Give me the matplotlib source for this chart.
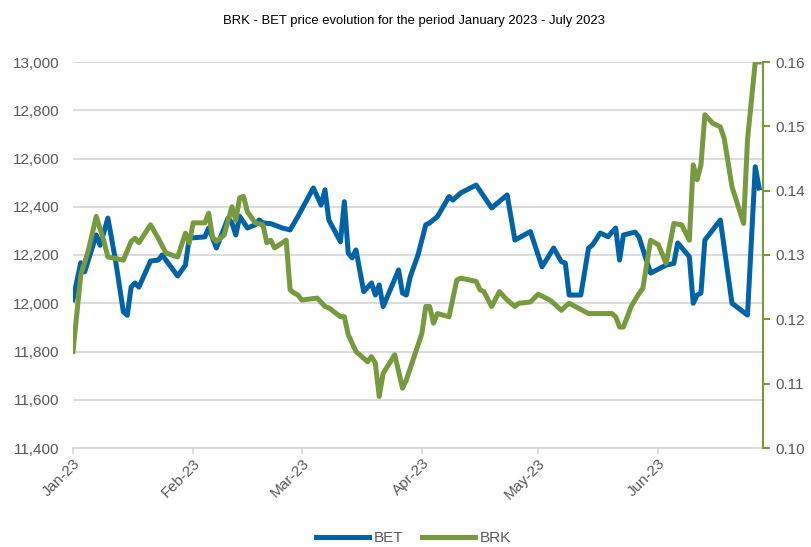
import pandas as pd
import matplotlib
matplotlib.use('Agg')
import matplotlib.pyplot as plt
import matplotlib.dates as mdates
from matplotlib.ticker import FuncFormatter

plt.rcParams['font.family'] = 'Liberation Sans'

# BET index (left axis)
bet_dates = ['2023-01-03', '2023-01-05', '2023-01-06', '2023-01-09', '2023-01-10', '2023-01-12',
             '2023-01-14', '2023-01-16', '2023-01-17', '2023-01-18', '2023-01-19', '2023-01-20',
             '2023-01-23', '2023-01-25', '2023-01-26', '2023-01-30', '2023-02-01', '2023-02-02',
             '2023-02-06', '2023-02-07', '2023-02-09', '2023-02-12', '2023-02-13', '2023-02-14',
             '2023-02-15', '2023-02-17', '2023-02-19', '2023-02-20', '2023-02-21', '2023-02-23',
             '2023-02-26', '2023-02-28', '2023-03-02', '2023-03-06', '2023-03-08', '2023-03-09',
             '2023-03-10', '2023-03-13', '2023-03-14', '2023-03-15', '2023-03-16', '2023-03-17',
             '2023-03-19', '2023-03-21', '2023-03-22', '2023-03-23', '2023-03-24', '2023-03-28',
             '2023-03-29', '2023-03-30', '2023-03-31', '2023-04-02', '2023-04-04', '2023-04-05',
             '2023-04-07', '2023-04-10', '2023-04-11', '2023-04-13', '2023-04-17', '2023-04-21',
             '2023-04-25', '2023-04-27', '2023-05-01', '2023-05-04', '2023-05-07', '2023-05-09',
             '2023-05-10', '2023-05-11', '2023-05-14', '2023-05-16', '2023-05-17', '2023-05-19',
             '2023-05-21', '2023-05-23', '2023-05-24', '2023-05-25', '2023-05-28', '2023-05-29',
             '2023-06-01', '2023-06-05', '2023-06-07', '2023-06-08', '2023-06-11', '2023-06-12',
             '2023-06-13', '2023-06-14', '2023-06-15', '2023-06-19', '2023-06-22', '2023-06-26',
             '2023-06-28', '2023-06-29']
bet = [12015, 12168, 12130, 12283, 12240, 12353,
       12175, 11964, 11950, 12067, 12084, 12067,
       12175, 12179, 12200, 12113, 12158, 12270,
       12275, 12312, 12229, 12353, 12333, 12283,
       12360, 12312, 12325, 12345, 12333, 12330,
       12312, 12304, 12359, 12478, 12407, 12470,
       12345, 12255, 12421, 12208, 12188, 12221,
       12048, 12084, 12034, 12076, 11986, 12138,
       12042, 12034, 12110, 12200, 12325, 12333,
       12359, 12442, 12428, 12457, 12490, 12395,
       12449, 12262, 12297, 12151, 12229, 12172,
       12167, 12034, 12034, 12229, 12241, 12291,
       12276, 12312, 12179, 12283, 12295, 12275,
       12125, 12158, 12165, 12250, 12193, 12000,
       12034, 12042, 12262, 12345, 12000, 11951,
       12566, 12478]

# BRK share price (right axis)
brk_dates = ['2023-01-03', '2023-01-05', '2023-01-07', '2023-01-09', '2023-01-11', '2023-01-12',
             '2023-01-16', '2023-01-18', '2023-01-19', '2023-01-20', '2023-01-23', '2023-01-25',
             '2023-01-27', '2023-01-30', '2023-02-01', '2023-02-02', '2023-02-03', '2023-02-06',
             '2023-02-07', '2023-02-08', '2023-02-09', '2023-02-11', '2023-02-13', '2023-02-14',
             '2023-02-15', '2023-02-16', '2023-02-17', '2023-02-19', '2023-02-21', '2023-02-22',
             '2023-02-23', '2023-02-24', '2023-02-27', '2023-02-28', '2023-03-01', '2023-03-02',
             '2023-03-03', '2023-03-07', '2023-03-09', '2023-03-10', '2023-03-13', '2023-03-14',
             '2023-03-15', '2023-03-16', '2023-03-17', '2023-03-20', '2023-03-21', '2023-03-22',
             '2023-03-23', '2023-03-24', '2023-03-27', '2023-03-29', '2023-03-30', '2023-04-03',
             '2023-04-04', '2023-04-05', '2023-04-06', '2023-04-07', '2023-04-10', '2023-04-12',
             '2023-04-13', '2023-04-17', '2023-04-18', '2023-04-19', '2023-04-21', '2023-04-23',
             '2023-04-25', '2023-04-27', '2023-04-28', '2023-05-01', '2023-05-03', '2023-05-06',
             '2023-05-07', '2023-05-09', '2023-05-10', '2023-05-11', '2023-05-16', '2023-05-22',
             '2023-05-23', '2023-05-24', '2023-05-25', '2023-05-27', '2023-05-29', '2023-05-30',
             '2023-06-01', '2023-06-03', '2023-06-05', '2023-06-07', '2023-06-09', '2023-06-11',
             '2023-06-12', '2023-06-13', '2023-06-14', '2023-06-15', '2023-06-17', '2023-06-19',
             '2023-06-20', '2023-06-22', '2023-06-25', '2023-06-26', '2023-06-28', '2023-06-29']
brk = [0.1150, 0.1269, 0.1308, 0.1360, 0.1321, 0.1297,
       0.1292, 0.1321, 0.1326, 0.1319, 0.1347, 0.1326,
       0.1303, 0.1297, 0.1334, 0.1319, 0.1350, 0.1350,
       0.1365, 0.1328, 0.1321, 0.1331, 0.1375, 0.1354,
       0.1389, 0.1391, 0.1367, 0.1350, 0.1347, 0.1319,
       0.1323, 0.1311, 0.1323, 0.1246, 0.1241, 0.1238,
       0.1230, 0.1233, 0.1220, 0.1218, 0.1204, 0.1204,
       0.1176, 0.1163, 0.1150, 0.1134, 0.1142, 0.1132,
       0.1080, 0.1116, 0.1145, 0.1093, 0.1106, 0.1178,
       0.1220, 0.1220, 0.1194, 0.1209, 0.1204, 0.1261,
       0.1264, 0.1259, 0.1246, 0.1243, 0.1220, 0.1243,
       0.1230, 0.1220, 0.1225, 0.1227, 0.1239, 0.1230,
       0.1225, 0.1214, 0.1220, 0.1225, 0.1209, 0.1209,
       0.1204, 0.1188, 0.1188, 0.1220, 0.1240, 0.1248,
       0.1323, 0.1316, 0.1287, 0.1349, 0.1347, 0.1323,
       0.1440, 0.1417, 0.1440, 0.1518, 0.1505, 0.1499,
       0.1481, 0.1406, 0.1349, 0.1479, 0.1600, 0.1600]

month_ticks = ['2023-01-03', '2023-02-03', '2023-03-03', '2023-04-03', '2023-05-03', '2023-06-03']

blue = '#0063A8'
green = '#779A3E'
grey = '#595959'

fig = plt.figure(figsize=(8.11, 5.47), dpi=100)
ax = fig.add_axes([73 / 811, 1 - 448 / 547, 690 / 811, 386 / 547])

ax.plot(pd.to_datetime(bet_dates), bet, color=blue, lw=3.6, solid_joinstyle='round', label='BET')
ax.set_ylim(11400, 13000)
ax.set_yticks(range(11400, 13001, 200))
ax.yaxis.set_major_formatter(FuncFormatter(lambda v, p: f'{v:,.0f}'))
ax.grid(axis='y', color='#D9D9D9', lw=1.3)
ax.set_axisbelow(True)
ax.set_xlim(pd.Timestamp('2023-01-03'), pd.Timestamp('2023-06-30'))
ax.set_xticks(pd.to_datetime(month_ticks))
ax.xaxis.set_major_formatter(mdates.DateFormatter('%b-%y'))
for s in ['left', 'top', 'right']:
    ax.spines[s].set_visible(False)
ax.spines['bottom'].set_color('#D9D9D9')
ax.spines['bottom'].set_linewidth(1.3)
ax.tick_params(axis='y', length=0, pad=10, labelsize=11, labelcolor=grey)
ax.tick_params(axis='x', length=4, width=1.2, color='#D9D9D9', labelsize=11, labelcolor=grey, pad=2)
for lab in ax.get_xticklabels():
    lab.set_rotation(45)
    lab.set_ha('right')
    lab.set_rotation_mode('anchor')

ax2 = ax.twinx()
ax2.plot(pd.to_datetime(brk_dates), brk, color=green, lw=3.6, solid_joinstyle='round', label='BRK')
ax2.set_ylim(0.10, 0.16)
ax2.set_yticks([0.10, 0.11, 0.12, 0.13, 0.14, 0.15, 0.16])
ax2.yaxis.set_major_formatter(FuncFormatter(lambda v, p: f'{v:.2f}'))
for s in ['left', 'top', 'bottom']:
    ax2.spines[s].set_visible(False)
ax2.spines['right'].set_color(green)
ax2.spines['right'].set_linewidth(1.5)
ax2.tick_params(axis='y', length=5, width=1.5, color=green, labelsize=11, labelcolor=grey, pad=4)

fig.suptitle('BRK - BET price evolution for the period January 2023 - July 2023',
             x=0.51, y=0.973, fontsize=9.4, color='#000000')

h1, l1 = ax.get_legend_handles_labels()
h2, l2 = ax2.get_legend_handles_labels()
fig.legend(h1 + h2, l1 + l2, loc='lower center', bbox_to_anchor=(0.51, -0.022), ncol=2,
           frameon=False, fontsize=11, handlelength=3.5, handletextpad=0.3, columnspacing=1.2,
           labelcolor=grey)

fig.savefig('out.png', dpi=100)
